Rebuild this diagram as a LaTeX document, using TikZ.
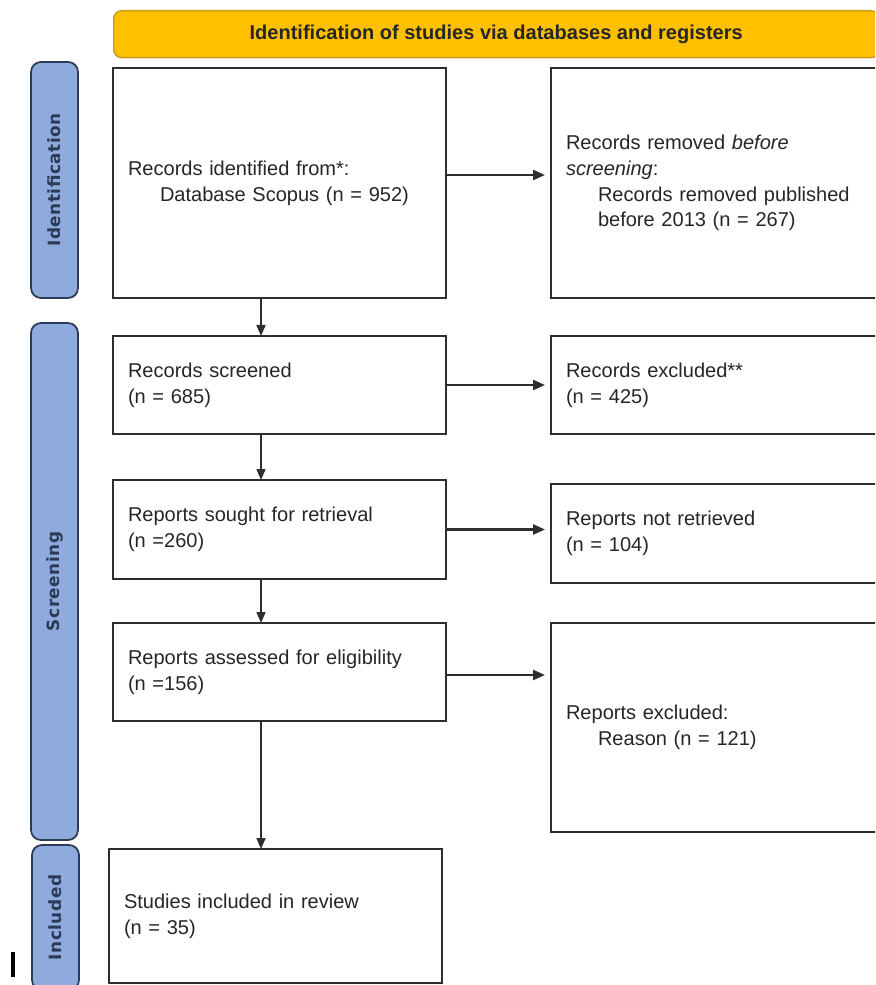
\documentclass[tikz,border=0pt]{standalone}
\usepackage{fontspec}
\usepackage{tikz}
\usetikzlibrary{positioning,arrows.meta}
\newfontfamily\boxfont{Liberation Sans}
\newfontfamily\barfont[LetterSpace=3]{DejaVu Sans}
\definecolor{headfill}{HTML}{FFC000}
\definecolor{headline}{HTML}{C99A1E}
\definecolor{barfill}{HTML}{8FAADC}
\definecolor{barline}{HTML}{2B3A57}
\definecolor{boxline}{HTML}{2E2E2E}
\definecolor{boxtext}{HTML}{262626}
\newcommand{\ind}{\hspace*{0.64cm}}
\tikzset{
	flowbox/.style={draw=boxline, line width=1pt, align=left, inner xsep=0.3cm, inner ysep=0pt, outer sep=0pt,
		text=boxtext, font=\boxfont\fontsize{11.4}{14.6}\selectfont},
	leftbox/.style={flowbox, text width=6.06cm},
	rightbox/.style={flowbox, text width=6.1cm},
	stagebar/.style={draw=barline, line width=1pt, fill=barfill, rounded corners=0.2cm, rotate=90,
		minimum height=0.94cm, inner sep=0pt, text=barline, font=\barfont\bfseries\fontsize{9.6}{12}\selectfont},
	flow/.style={-{Triangle[length=0.24cm, width=0.2cm]}, draw=boxline, line width=1.4pt, shorten >=0.12cm},
	down/.style={-{Triangle[length=0.22cm, width=0.18cm]}, draw=boxline, line width=0.9pt}
}

\begin{document}
\begin{tikzpicture}
	\path[use as bounding box, clip] (0,0) rectangle (17.5,-19.7);
	\fill[white] (0,0) rectangle (17.5,-19.7);

	\node[draw=headline, line width=0.8pt, fill=headfill, rounded corners=0.16cm, anchor=north west,
		minimum width=15.3cm, minimum height=0.94cm, inner sep=0pt,
		font=\boxfont\bfseries\fontsize{11.4}{13}\selectfont, text=boxtext] (head) at (2.26,-0.2)
		{Identification of studies via databases and registers};

	\node[stagebar, minimum width=4.72cm] (barid) at (1.09,-3.6) {Identification};
	\node[stagebar, minimum width=10.34cm] (barscr) at (1.09,-11.63) {Screening};
	\node[stagebar, minimum width=2.9cm] (barinc) at (1.11,-18.35) {Included};

	\node[leftbox, anchor=north west, minimum height=4.6cm] (ident) at (2.26,-1.36)
		{Records identified from*:\\ \ind Database Scopus (n = 952)};
	\node[rightbox, minimum height=4.6cm, right=2.1cm of ident] (removed)
		{Records removed \textit{before}\\ \textit{screening}:\\ \ind Records removed published\\ \ind before 2013 (n = 267)};

	\node[leftbox, minimum height=1.96cm, below=0.76cm of ident] (screened)
		{Records screened\\ (n = 685)};
	\node[rightbox, minimum height=1.96cm, right=2.1cm of screened] (excluded)
		{Records excluded**\\ (n = 425)};

	\node[leftbox, minimum height=1.98cm, below=0.92cm of screened] (sought)
		{Reports sought for retrieval\\ (n =260)};
	\node[rightbox, minimum height=1.98cm, right=2.1cm of sought, yshift=-0.08cm] (notret)
		{Reports not retrieved\\ (n = 104)};

	\node[leftbox, minimum height=1.96cm, below=0.88cm of sought] (assessed)
		{Reports assessed for eligibility\\ (n =156)};
	\node[rightbox, minimum height=4.18cm, right=2.1cm of assessed.north east, anchor=north west] (exreason)
		{Reports excluded:\\ \ind Reason (n = 121)};

	\node[leftbox, minimum height=2.68cm, below=2.56cm of assessed, xshift=-0.08cm] (included)
		{Studies included in review\\ (n = 35)};

	\coordinate (spine) at (5.22,0);
	\draw[flow] ([yshift=0.16cm]ident.east) -- ([yshift=0.16cm]ident.east -| removed.west);
	\draw[flow] (screened.east) -- (screened.east -| excluded.west);
	\draw[flow] (sought.east) -- (sought.east -| notret.west);
	\draw[flow] ([yshift=-0.06cm]assessed.east) -- ([yshift=-0.06cm]assessed.east -| exreason.west);
	\draw[down] (spine |- ident.south) -- (spine |- screened.north);
	\draw[down] (spine |- screened.south) -- (spine |- sought.north);
	\draw[down] (spine |- sought.south) -- (spine |- assessed.north);
	\draw[down] (spine |- assessed.south) -- (spine |- included.north);

	\draw[line width=2.4pt] (0.26,-19.04) -- (0.26,-19.54);
\end{tikzpicture}
\end{document}
